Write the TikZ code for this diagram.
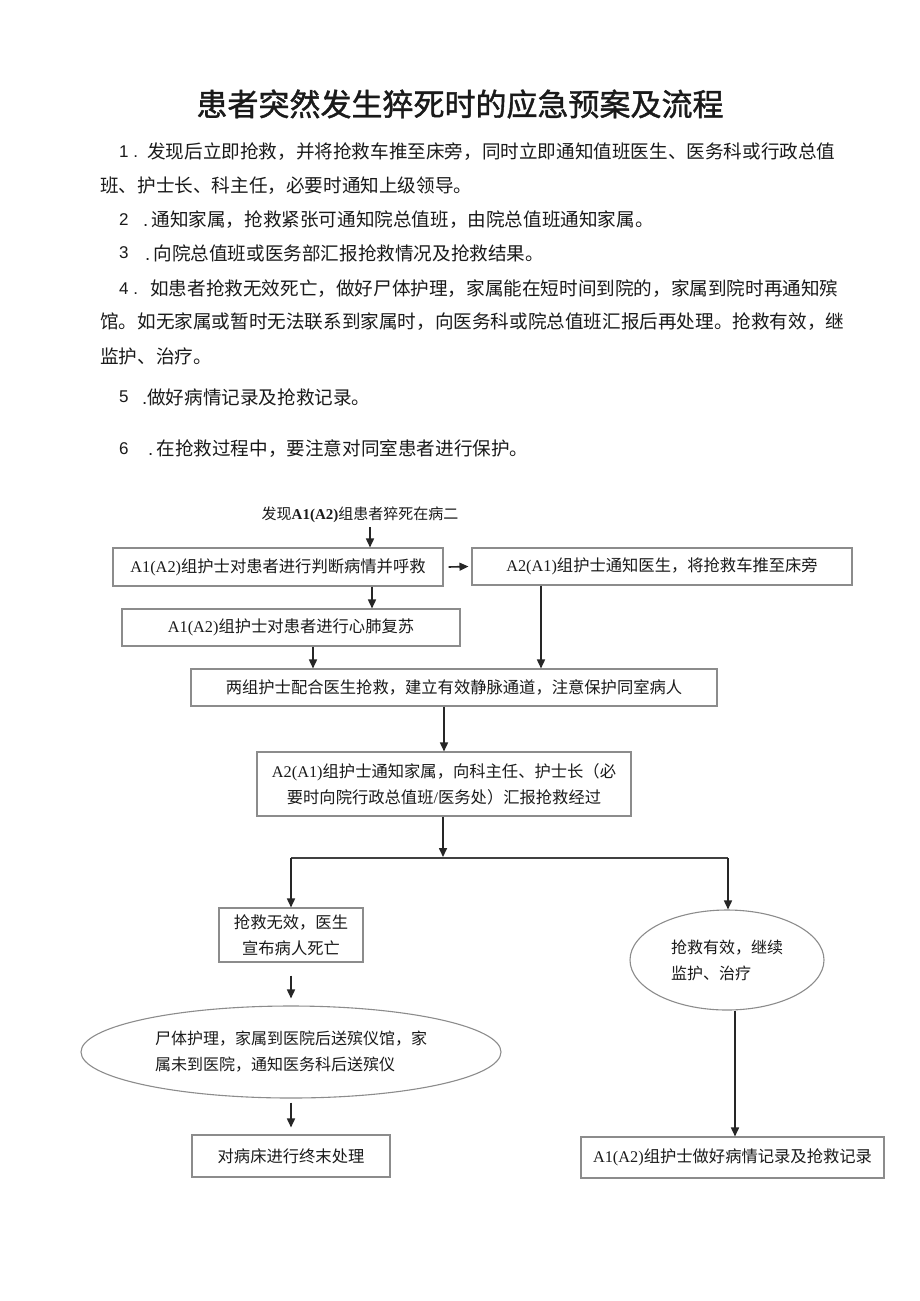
\documentclass[tikz,border=0pt]{standalone}
\usepackage{fontspec}
\setmainfont{Noto Sans CJK SC}
\newfontfamily\titlefont[FakeBold=1.3]{Noto Sans CJK SC}
\newfontfamily\tnrfont{Liberation Serif}
\newfontfamily\arialfont{Liberation Sans}
\newcommand\tnr[1]{{\tnrfont #1}}
\newcommand\arl[1]{{\arialfont #1}}
\usetikzlibrary{arrows.meta,shapes.geometric}
\definecolor{boxgray}{HTML}{8C8C8C}
\definecolor{ink}{HTML}{1A1A1A}
\begin{document}
\begin{tikzpicture}[x=1pt,y=-1pt,
  para/.style={anchor=west,inner sep=0pt,text=ink,font=\fontsize{18.6}{20}\selectfont},
  num/.style={anchor=west,inner sep=0pt,text=ink,font=\fontsize{17}{20}\selectfont\arialfont},
  fbox/.style={draw=boxgray,line width=1.1pt,inner sep=0pt,text=ink,font=\fontsize{16.3}{26}\selectfont,align=center},
  fell/.style={ellipse,draw=boxgray,line width=1.1pt,inner sep=0pt,text=ink,font=\fontsize{16}{26}\selectfont,align=left},
  arr/.style={draw=black!85,line width=1.6pt,-{Triangle[length=9pt,width=8pt]}},
  bline/.style={draw=black!75,line width=2pt}
]
\useasboundingbox[fill=white] (0,0) rectangle (920,1301);

% title
\node[inner sep=0pt,text=ink,font=\fontsize{31}{34}\selectfont\titlefont] (title) at (460,104) {患者突然发生猝死时的应急预案及流程};

% paragraphs
\node[num] (n1) at (119,152) {1 .};
\node[para] (p1a) at (147,152) {发现后立即抢救，并将抢救车推至床旁，同时立即通知值班医生、医务科或行政总值};
\node[para] (p1b) at (100,186) {班、护士长、科主任，必要时通知上级领导。};
\node[num] (n2) at (119,220) {2};
\node[para] (p2) at (143,220) {\arl{.}\,通知家属，抢救紧张可通知院总值班，由院总值班通知家属。};
\node[num] (n3) at (119,253) {3};
\node[para] (p3) at (145,253) {\arl{.}\,向院总值班或医务部汇报抢救情况及抢救结果。};
\node[num] (n4) at (119,289) {4 .};
\node[para] (p4a) at (150,289) {如患者抢救无效死亡，做好尸体护理，家属能在短时间到院的，家属到院时再通知殡};
\node[para] (p4b) at (100,322) {馆。如无家属或暂时无法联系到家属时，向医务科或院总值班汇报后再处理。抢救有效，继};
\node[para] (p4c) at (100,356) {监护、治疗。};
\node[num] (n5) at (119,397) {5};
\node[para] (p5) at (142,397) {\arl{.}做好病情记录及抢救记录。};
\node[num] (n6) at (119,449) {6};
\node[para] (p6) at (148,449) {\arl{.}\,在抢救过程中，要注意对同室患者进行保护。};

% flowchart
\node[inner sep=0pt,text=ink,font=\fontsize{15}{18}\selectfont] (start) at (360,515) {发现\tnr{\bfseries A1(A2)}组患者猝死在病二};
\node[fbox,minimum width=330,minimum height=38] (b1) at (278,567) {\tnr{A1(A2)}组护士对患者进行判断病情并呼救};
\node[fbox,minimum width=380,minimum height=37] (b2) at (662,566.5) {\tnr{A2(A1)}组护士通知医生，将抢救车推至床旁};
\node[fbox,minimum width=338,minimum height=37] (b3) at (291,627.5) {\tnr{A1(A2)}组护士对患者进行心肺复苏};
\node[fbox,minimum width=526,minimum height=37] (b4) at (454,687.5) {两组护士配合医生抢救，建立有效静脉通道，注意保护同室病人};
\node[fbox,minimum width=374,minimum height=64] (b5) at (444,784) {\tnr{A2(A1)}组护士通知家属，向科主任、护士长（必\\要时向院行政总值班\tnr{/}医务处）汇报抢救经过};
\node[fbox,minimum width=144,minimum height=54] (b6) at (291,935) {抢救无效，医生\\宣布病人死亡};
\node[fell,minimum width=194,minimum height=100] (e1) at (727,960) {抢救有效，继续\\监护、治疗};
\node[fell,minimum width=420,minimum height=92] (e2) at (291,1052) {尸体护理，家属到医院后送殡仪馆，家\\属未到医院，通知医务科后送殡仪};
\node[fbox,minimum width=198,minimum height=42] (b7) at (291,1156) {对病床进行终末处理};
\node[fbox,minimum width=303,minimum height=41] (b8) at (732.5,1157.5) {\tnr{A1(A2)}组护士做好病情记录及抢救记录};

\coordinate (xa) at (370,0);
\coordinate (xb) at (372,0);
\coordinate (xc) at (313,0);
\coordinate (xd) at (541,0);
\coordinate (xe) at (735,0);
\coordinate (br) at (443,858);
\coordinate (brl) at (291,858);
\coordinate (brr) at (728,858);

\draw[arr] ([yshift=-4pt]start.south -| xa) -- (b1.north -| xa);
\draw[arr] ([xshift=5pt]b1.east) -- ([xshift=-3pt]b2.west);
\draw[arr] (b1.south -| xb) -- (b3.north -| xb);
\draw[arr] (b3.south -| xc) -- (b4.north -| xc);
\draw[arr] (b2.south -| xd) -- (b4.north -| xd);
\draw[arr] (b4.south -| b5.north) -- (b5.north);
\draw[arr] (b5.south -| br) -- ([yshift=1pt]br);
\draw[bline] (brl) -- (brr);
\draw[arr] (brl) -- (b6.north -| brl);
\draw[arr] (brr) -- (e1.north -| brr);
\draw[arr] ([yshift=-13pt]b6.south) -- ([yshift=7pt]e2.north);
\draw[arr] ([yshift=-4pt]e2.south) -- ([yshift=7pt]b7.north);
\draw[arr] (e1.south -| xe) -- (b8.north -| xe);
\end{tikzpicture}
\end{document}
